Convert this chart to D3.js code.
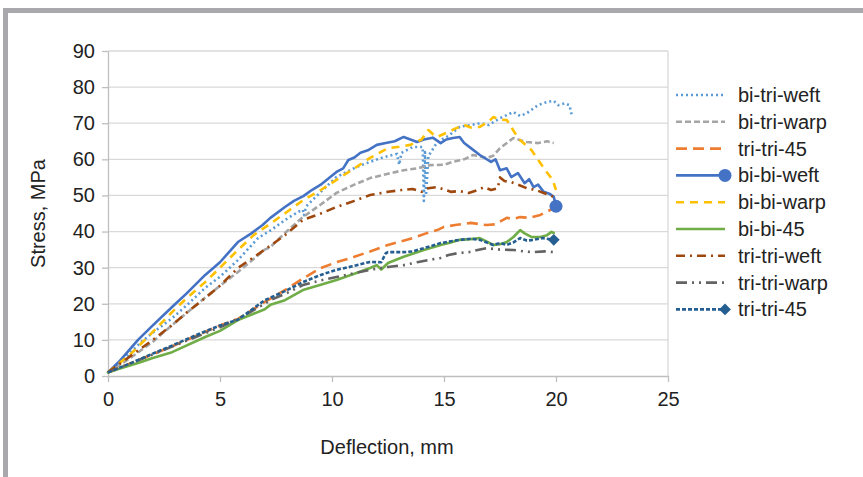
<!DOCTYPE html>
<html>
<head>
<meta charset="utf-8">
<script src="https://cdn.jsdelivr.net/npm/d3@7"></script>
<style>
  body { margin: 0; background: #fff; }
  text { font-family: "Liberation Sans", Arial, sans-serif; fill: #222; }
</style>
</head>
<body>
<svg id="chart" width="863" height="477"></svg>
<script>
// tick values
const xTicks = [0, 5, 10, 15, 20, 25];
const yTicks = [0, 10, 20, 30, 40, 50, 60, 70, 80, 90];

// series names (legend order = draw order)
const seriesNames = ["bi-tri-weft", "bi-tri-warp", "tri-tri-45", "bi-bi-weft", "bi-bi-warp",
    "bi-bi-45", "tri-tri-weft", "tri-tri-warp", "tri-tri-45"];

// deflection (mm) / stress (MPa)
const biTriWeftX = [0, 0.5, 1, 1.5, 2, 2.86, 3.5, 4.34, 5, 5.8, 6.7, 7.3, 7.9, 8.5, 8.7, 8.75, 8.85, 9.5, 10.2, 11.1, 11.7, 12.3, 12.9, 13.0, 13.1, 13.6, 14.05, 14.1, 14.15, 14.2, 14.3, 14.4, 14.7, 15.2, 15.7, 16.2, 16.6, 17.0, 17.5, 18.1, 18.4, 18.7, 19.2, 19.6, 19.9, 20.1, 20.4, 20.6, 20.7];
const biTriWeftY = [1, 3.5, 6.5, 9.5, 12, 16, 19.5, 24.4, 27.5, 32.1, 38.2, 40.5, 43.2, 45.5, 46, 44.5, 47, 51, 55.1, 57.9, 59.3, 60.6, 61.5, 58.5, 61.8, 63.4, 63.4, 48.5, 62, 50, 61, 61.8, 64.8, 66.5, 69, 69.5, 70, 69.5, 71.4, 73.1, 72, 72.8, 75, 75.9, 76.2, 75, 75.5, 75, 72.3];

const biTriWarpX = [0, 1, 2, 2.86, 4, 5, 5.8, 7, 7.25, 7.9, 8.7, 9.5, 10.2, 11, 11.7, 12.5, 13.2, 13.8, 14.4, 15.0, 15.4, 15.9, 16.3, 16.9, 17.2, 17.5, 18.1, 18.4, 18.7, 19.2, 19.6, 19.9];
const biTriWarpY = [1, 5, 9.5, 14.1, 20, 25, 28.8, 35, 35.7, 39.6, 44, 47.5, 50.7, 53, 54.8, 56, 57, 57.5, 58.4, 58.5, 59.3, 60, 61.2, 60.4, 61, 63.1, 65.9, 65.3, 64.8, 64.5, 65, 64.5];

const triTri45aX = [0, 1, 2, 3, 4, 5, 5.8, 7, 7.9, 8.7, 9.5, 10.2, 11, 11.7, 12.5, 13.6, 14.2, 14.7, 15, 15.5, 16.2, 16.9, 17.3, 17.8, 18.1, 18.4, 18.8, 19.3, 19.6, 19.9];
const triTri45aY = [1, 3.5, 6, 8.6, 11.3, 14, 15.8, 20.5, 23.8, 27, 29.9, 31.5, 33, 34.5, 36.3, 38.2, 39.5, 40.4, 41.3, 41.8, 42.4, 41.8, 42, 43.8, 43.5, 44, 43.8, 44.6, 45.5, 46.5];

const biBiWeftX = [0, 0.5, 1.34, 2, 2.86, 3.5, 4.34, 5, 5.8, 6.4, 6.9, 7.25, 7.9, 8.3, 8.72, 9.1, 9.48, 9.8, 10.2, 10.5, 10.73, 11.0, 11.27, 11.6, 12.0, 12.4, 12.8, 13.2, 13.5, 13.8, 14.1, 14.5, 14.85, 15.1, 15.4, 15.7, 15.9, 16.2, 16.6, 17.1, 17.3, 17.5, 17.8, 18.0, 18.3, 18.6, 18.8, 19.0, 19.2, 19.45, 19.7, 19.9, 20.0];
const biBiWeftY = [1, 4, 10, 14, 19.1, 22.8, 28, 31.5, 37.1, 39.5, 41.8, 43.8, 46.8, 48.5, 49.8, 51.5, 52.9, 54.5, 56.5, 57.5, 59.8, 60.5, 61.8, 62.5, 64, 64.5, 65, 66.2, 65.5, 64.8, 65.5, 66, 64.5, 65.5, 65.9, 66.2, 64.5, 63.1, 61.2, 59.3, 60, 57, 57.5, 55.1, 56.2, 53.4, 54.5, 52.3, 53, 51, 50.5, 49.6, 47];

const biBiWarpX = [0, 1, 2, 2.86, 3.5, 4.34, 5, 5.8, 6.5, 7.3, 8, 8.72, 9.5, 10.2, 11, 11.7, 12.5, 13.0, 13.5, 14.0, 14.3, 14.5, 14.7, 15.2, 15.5, 15.9, 16.2, 16.6, 17.0, 17.2, 17.5, 17.8, 18.0, 18.3, 18.9, 19.45, 19.85, 20.0];
const biBiWarpY = [1, 6, 12.2, 17.7, 21.5, 26, 30, 34.9, 39, 42.4, 45.5, 48.7, 51.5, 54.3, 57.5, 60.4, 63.1, 63.5, 64, 65.5, 68.1, 67, 66.2, 67.6, 68.5, 69.5, 68.8, 69, 70.5, 71.7, 71, 70.9, 69, 65.9, 62.6, 57.6, 54.3, 51.5];

const biBi45X = [0, 0.5, 1.34, 2, 2.86, 4.34, 5, 5.8, 7, 7.25, 7.9, 8.7, 9.5, 10.2, 11, 11.7, 12, 12.2, 12.5, 13.2, 14.1, 14.85, 15.3, 15.7, 16.2, 16.6, 17.2, 17.5, 17.8, 18.1, 18.4, 18.6, 18.9, 19.3, 19.6, 19.8, 19.9];
const biBi45Y = [1, 2, 3.6, 5, 6.6, 10.8, 12.5, 15.5, 18.5, 19.7, 21, 23.8, 25.3, 26.6, 28.3, 29.9, 30.7, 29.5, 31.3, 33, 34.9, 36.3, 37, 37.7, 37.9, 38.2, 36.3, 36.5, 37.1, 38.5, 40.4, 39.5, 38.5, 38.5, 39, 39.9, 39.6];

const triTriWeftX = [0, 1, 2, 2.86, 3.5, 4.34, 5, 5.8, 7, 7.9, 8.7, 9.5, 10.2, 11, 11.7, 12.5, 13.1, 13.6, 14.0, 14.3, 14.7, 15.3, 15.7, 16.1, 16.5, 16.8, 17.1, 17.4, 17.5, 17.7, 18, 18.3, 18.7, 19.1, 19.45, 19.9];
const triTriWeftY = [1, 5.5, 10, 14.1, 17.5, 21.6, 25, 29.9, 35, 39, 43.2, 45, 46.8, 48.5, 50.1, 51, 51.5, 51.8, 51, 52, 52.3, 51, 51.2, 50.7, 51.5, 52.3, 51.5, 52, 55, 54, 53.7, 53, 52, 51.5, 50.7, 49.6];

const triTriWarpX = [0, 1, 2, 3, 4, 5, 6, 7, 7.25, 8, 8.7, 9.5, 10.2, 11, 11.7, 12.5, 13.2, 13.8, 14.3, 14.85, 15.2, 15.6, 16.1, 16.5, 16.9, 17.5, 18.1, 18.6, 19, 19.5, 19.9];
const triTriWarpY = [1, 3.5, 6, 8.5, 11, 13.5, 16.5, 20, 21, 23, 25.2, 26.5, 27.4, 28.5, 29.4, 30.2, 30.7, 31.5, 32.1, 32.7, 33.5, 34, 34.3, 34.9, 35.4, 35, 34.9, 34.5, 34.3, 34.5, 34.3];

const triTri45bX = [0, 1, 2, 3, 4, 5, 5.8, 7, 7.9, 8.7, 9.5, 10.2, 11, 11.7, 12.2, 12.4, 12.5, 13.2, 13.6, 14.1, 14.85, 15.3, 15.7, 16.2, 16.6, 17.2, 17.5, 17.8, 18.1, 18.4, 18.7, 19, 19.4, 19.9];
const triTri45bY = [1, 3.5, 6.2, 8.8, 11.5, 14, 15.6, 21, 23.5, 26, 28, 29.4, 30.5, 31.6, 31.5, 34, 34.3, 34.3, 34.5, 35.4, 36.8, 37.3, 37.7, 38, 37.7, 36.3, 36.8, 36.3, 37, 38.2, 37.5, 37.7, 38.2, 37.7];

const seriesX = [biTriWeftX, biTriWarpX, triTri45aX, biBiWeftX, biBiWarpX, biBi45X, triTriWeftX, triTriWarpX, triTri45bX];
const seriesY = [biTriWeftY, biTriWarpY, triTri45aY, biBiWeftY, biBiWarpY, biBi45Y, triTriWeftY, triTriWarpY, triTri45bY];

// look of each series
const styles = [
    { color: "#5B9BD5", dash: "2,3", cap: "butt" },
    { color: "#A5A5A5", dash: "6,3", cap: "butt" },
    { color: "#ED7D31", dash: "11,6", cap: "butt" },
    { color: "#4472C4", dash: null, cap: "round", marker: "circle" },
    { color: "#FFC000", dash: "8,6", cap: "butt" },
    { color: "#70AD47", dash: null, cap: "round" },
    { color: "#9E480E", dash: "9,5,2,5", cap: "butt" },
    { color: "#636363", dash: "11,5,2,5,2,5", cap: "butt" },
    { color: "#255E91", dash: "4,2", cap: "butt", marker: "diamond" }
];

const svg = d3.select("#chart");

// outer frame
svg.append("rect").attr("x", 3).attr("y", 8).attr("width", 860).attr("height", 5).attr("fill", "#a9a9ad");
svg.append("rect").attr("x", 3).attr("y", 8).attr("width", 5).attr("height", 469).attr("fill", "#a9a9ad");

const margin = { left: 108, right: 668, top: 51, bottom: 376 };
const x = d3.scaleLinear().domain([0, 25]).range([margin.left, margin.right]);
const y = d3.scaleLinear().domain([0, 90]).range([margin.bottom, margin.top]);

// gridlines
svg.append("g")
    .selectAll("line")
    .data(yTicks.filter(d => d > 0))
    .join("line")
    .attr("x1", margin.left).attr("x2", margin.right)
    .attr("y1", d => y(d)).attr("y2", d => y(d))
    .attr("stroke", "#d9d9d9").attr("stroke-width", 1.3);

// right border of plot
svg.append("line")
    .attr("x1", margin.right).attr("x2", margin.right)
    .attr("y1", margin.top).attr("y2", margin.bottom)
    .attr("stroke", "#d9d9d9").attr("stroke-width", 1.3);

// axes
const xAxis = svg.append("g")
    .attr("transform", `translate(0,${margin.bottom})`)
    .call(d3.axisBottom(x).tickValues(xTicks).tickSize(6).tickPadding(10).tickSizeOuter(0));
const yAxis = svg.append("g")
    .attr("transform", `translate(${margin.left},0)`)
    .call(d3.axisLeft(y).tickValues(yTicks).tickSize(6).tickPadding(7).tickSizeOuter(0));

[xAxis, yAxis].forEach(a => {
    a.select(".domain").attr("stroke", "#bfbfbf").attr("stroke-width", 1.3);
    a.selectAll(".tick line").attr("stroke", "#bfbfbf").attr("stroke-width", 1.3);
    a.selectAll(".tick text")
        .attr("font-family", "Liberation Sans, Arial, sans-serif")
        .attr("font-size", 20).attr("fill", "#222");
});

// series lines
const line = d3.line().x(d => x(d[0])).y(d => y(d[1]));
const diamond = d3.symbol(d3.symbolSquare, 70);

const plot = svg.append("g");
seriesNames.forEach((name, i) => {
    const pts = seriesX[i].map((v, j) => [v, seriesY[i][j]]);
    const st = styles[i];
    plot.append("path")
        .datum(pts)
        .attr("d", line)
        .attr("fill", "none")
        .attr("stroke", st.color)
        .attr("stroke-width", 2.6)
        .attr("stroke-linejoin", "round")
        .attr("stroke-linecap", st.cap)
        .attr("stroke-dasharray", st.dash);
    const last = pts[pts.length - 1];
    if (st.marker === "circle") {
        plot.append("circle").attr("cx", x(last[0])).attr("cy", y(last[1])).attr("r", 6.5).attr("fill", st.color);
    } else if (st.marker === "diamond") {
        plot.append("path")
            .attr("d", diamond())
            .attr("transform", `translate(${x(last[0])},${y(last[1])}) rotate(45)`)
            .attr("fill", st.color);
    }
});

// axis titles
svg.append("text")
    .attr("x", (margin.left + margin.right) / 2 - 1)
    .attr("y", 454)
    .attr("text-anchor", "middle")
    .attr("font-size", 20)
    .text("Deflection, mm");

svg.append("text")
    .attr("transform", `translate(45,${(margin.top + margin.bottom) / 2}) rotate(-90)`)
    .attr("text-anchor", "middle")
    .attr("font-size", 20)
    .text("Stress, MPa");

// legend
const legend = svg.append("g");
seriesNames.forEach((name, i) => {
    const st = styles[i];
    const cy = 95 + i * 26.8;
    legend.append("line")
        .attr("x1", 676).attr("x2", 725)
        .attr("y1", cy).attr("y2", cy)
        .attr("stroke", st.color)
        .attr("stroke-width", 2.6)
        .attr("stroke-dasharray", st.dash);
    if (st.marker === "circle") {
        legend.append("circle").attr("cx", 725).attr("cy", cy).attr("r", 6.5).attr("fill", st.color);
    } else if (st.marker === "diamond") {
        legend.append("path")
            .attr("d", diamond())
            .attr("transform", `translate(725,${cy}) rotate(45)`)
            .attr("fill", st.color);
    }
    legend.append("text")
        .attr("x", 738).attr("y", cy)
        .attr("dy", "0.35em")
        .attr("font-size", 20)
        .text(name);
});
</script>
</body>
</html>
